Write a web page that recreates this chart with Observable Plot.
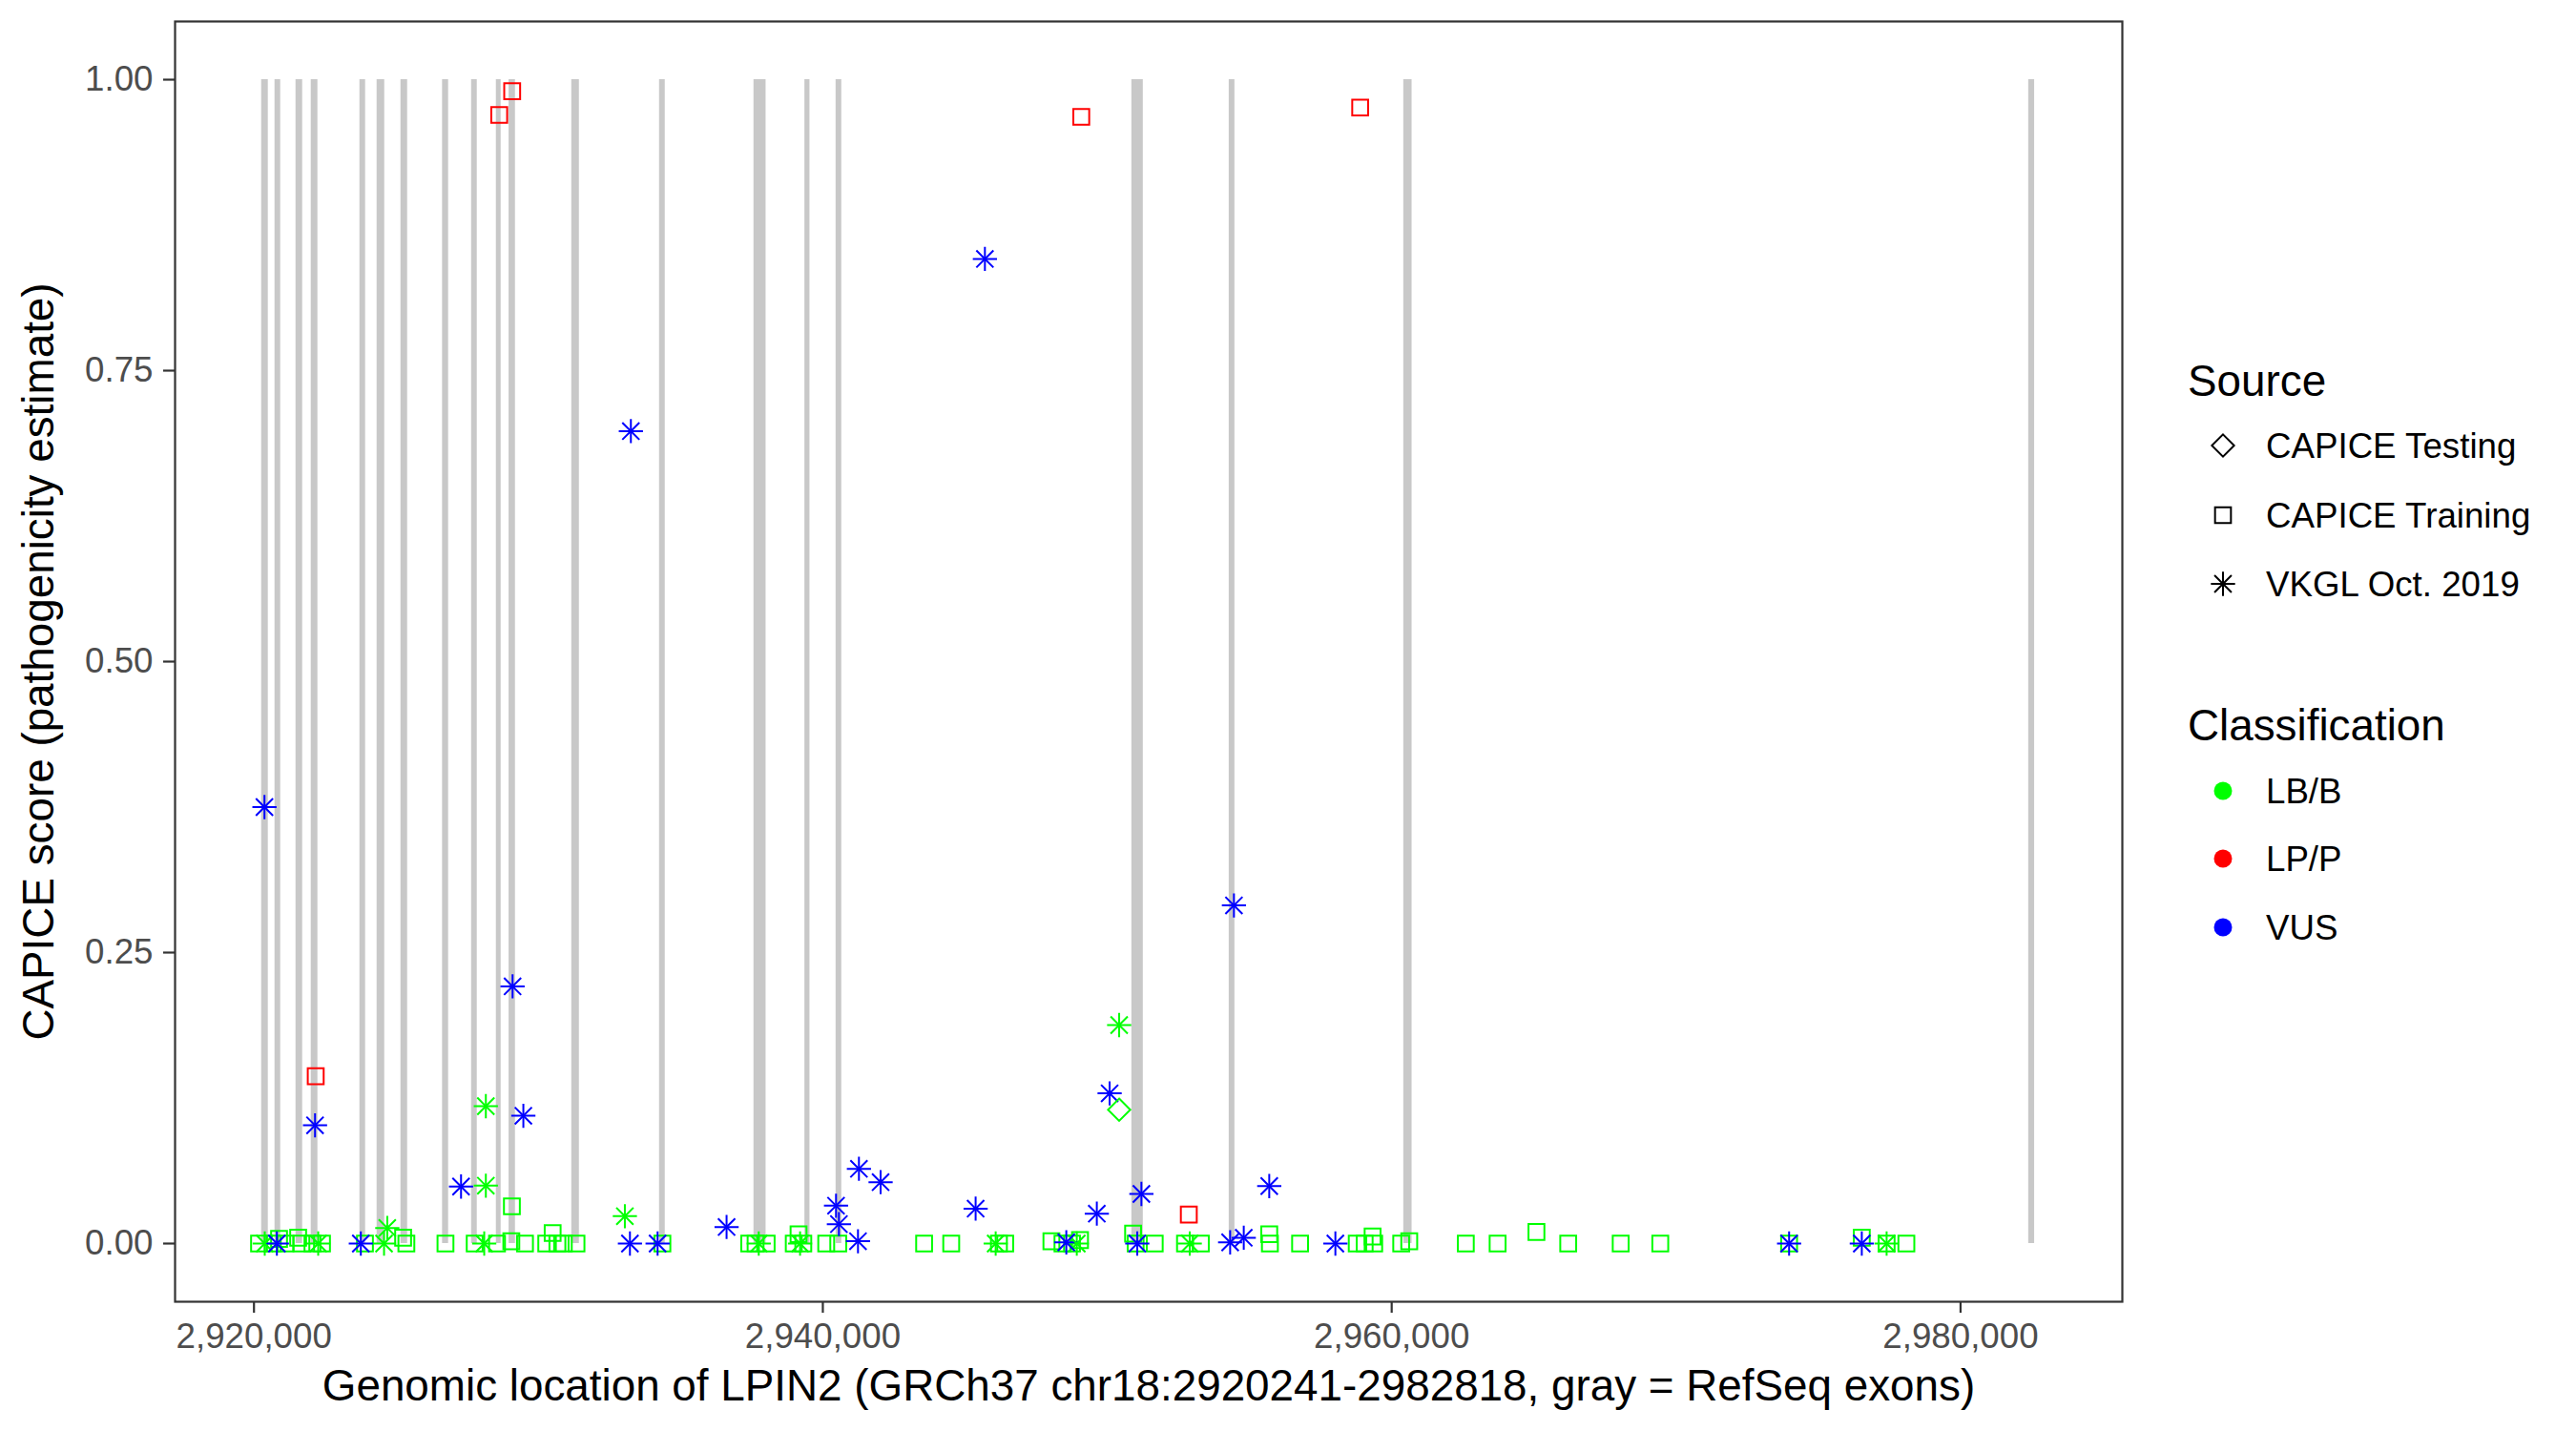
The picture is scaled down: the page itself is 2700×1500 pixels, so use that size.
<!DOCTYPE html>
<html>
<head>
<meta charset="utf-8">
<script src="https://cdn.jsdelivr.net/npm/d3@7"></script>
<script src="https://cdn.jsdelivr.net/npm/@observablehq/plot@0.6"></script>
<style>
  html, body { margin: 0; padding: 0; background: #ffffff; }
  #wrap { position: relative; width: 2700px; height: 1500px; background: #ffffff;
          font-family: "Liberation Sans", Arial, Helvetica, sans-serif; }
  #wrap > svg { position: absolute; left: 0; top: 0; }
</style>
</head>
<body>
<div id="wrap"></div>
<script>
// ---------- data ----------
const sourceNames = ["CAPICE Testing", "CAPICE Training", "VKGL Oct. 2019"];
const classNames = ["LB/B", "LP/P", "VUS"];
const classColors = ["#00FF00", "#FF0000", "#0000FF"];
const xTicks = [2920000, 2940000, 2960000, 2980000];
const yTicks = [0, 0.25, 0.5, 0.75, 1];
const xTitle = "Genomic location of LPIN2 (GRCh37 chr18:2920241-2982818, gray = RefSeq exons)";
const yTitle = "CAPICE score (pathogenicity estimate)";

// RefSeq exons (genomic start / end)
const exonStart = [2920269, 2920739, 2921477, 2922013, 2923724, 2924328, 2925167, 2926630, 2927650, 2928521,
                   2928969, 2931172, 2934259, 2937578, 2939369, 2940465, 2950864, 2954287, 2960424, 2982396];
const exonEnd   = [2920503, 2920939, 2921711, 2922247, 2923924, 2924596, 2925401, 2926842, 2927850, 2928689,
                   2929193, 2931440, 2934459, 2938004, 2939547, 2940665, 2951266, 2954487, 2960716, 2982604];

// CAPICE Training, LB/B
const trainBenignPos = [2920178, 2920661, 2920882, 2921107, 2921553, 2921667, 2922057, 2922392, 2923902, 2925244,
  2925358, 2926733, 2927760, 2928545, 2929068, 2929048, 2929528, 2930276, 2930501, 2930668,
  2930893, 2931339, 2934359, 2937411, 2937636, 2938025, 2938978, 2939146, 2939313, 2940119,
  2940542, 2943561, 2944514, 2946191, 2946412, 2948036, 2948425, 2948761, 2949042, 2950908,
  2950998, 2951669, 2952733, 2953290, 2955695, 2955718, 2956779, 2958771, 2959050, 2959329,
  2959385, 2960335, 2960617, 2962606, 2963724, 2965089, 2966206, 2968051, 2969443, 2973972,
  2976528, 2977401, 2978095];
const trainBenignScore = [0, 0, 0.004, 0, 0.005, 0, 0, 0, 0, 0.005,
  0, 0, 0, 0, 0.032, 0.002, 0, 0, 0.009, 0,
  0, 0, 0, 0, 0, 0, 0, 0.008, 0, 0,
  0, 0, 0, 0, 0, 0.002, 0, 0, 0.003, 0.0085,
  0, 0, 0, 0, 0.008, 0, 0, 0, 0, 0.006,
  0, 0, 0.002, 0, 0, 0.01, 0, 0, 0, 0,
  0.005, 0, 0];

// CAPICE Training, LP/P
const trainPathoPos   = [2922171, 2928622, 2929078, 2949086, 2958892, 2952867];
const trainPathoScore = [0.1437, 0.9697, 0.990, 0.968, 0.976, 0.0249];

// VKGL Oct. 2019, VUS
const vkglVusPos = [2920369, 2922147, 2929471, 2927280, 2929092, 2933251, 2945698, 2954454, 2920805, 2923757,
  2933218, 2934191, 2936616, 2940464, 2940565, 2941236, 2941269, 2942031, 2945372, 2948560,
  2949633, 2950083, 2951055, 2951200, 2954320, 2954799, 2955695, 2958020, 2973972, 2976528];
const vkglVusScore = [0.375, 0.1016, 0.1098, 0.049, 0.221, 0.698, 0.846, 0.2905, 0, 0,
  0, 0, 0.0142, 0.0325, 0.0167, 0.002, 0.0642, 0.0527, 0.030, 0.001,
  0.0257, 0.129, 0, 0.0426, 0.001, 0.005, 0.0494, 0, 0, 0];

// VKGL Oct. 2019, LB/B
const vkglBenignPos = [2928152, 2928152, 2933040, 2924687, 2950418, 2920379, 2922258, 2924573, 2928095, 2937747,
  2939200, 2946077, 2948929, 2952900, 2977401];
const vkglBenignScore = [0.118, 0.0497, 0.0235, 0.0134, 0.1877, 0, 0, 0, 0, 0,
  0, 0, 0, 0, 0];

// CAPICE Testing, LB/B
const testBenignPos   = [2950418];
const testBenignScore = [0.115];

// ---------- tables ----------
const exons = exonStart.map((s, i) => ({start: s, end: exonEnd[i], low: 0, high: 1}));
const rows = (pos, score, cls) => pos.map((p, i) => ({pos: p, score: score[i], cls}));
const training = [...rows(trainBenignPos, trainBenignScore, "LB/B"), ...rows(trainPathoPos, trainPathoScore, "LP/P")];
const vkgl = [...rows(vkglBenignPos, vkglBenignScore, "LB/B"), ...rows(vkglVusPos, vkglVusScore, "VUS")];
const testing = rows(testBenignPos, testBenignScore, "LB/B");

// ---------- layout ----------
const W = 2700, H = 1500;
const panelLeft = 183, panelRight = 2224, panelTop = 22, panelBottom = 1364;
const FONT = '"Liberation Sans", Arial, Helvetica, sans-serif';
const tickFont = 36.7, titleFont = 45.8;

const chart = Plot.plot({
  width: W, height: H,
  marginLeft: panelLeft, marginRight: W - panelRight, marginTop: panelTop, marginBottom: H - panelBottom,
  style: {fontFamily: FONT, background: "#ffffff", overflow: "visible"},
  x: {domain: [2917226, 2985688]},
  y: {domain: [-0.05, 1.05]},
  color: {domain: classNames, range: classColors},
  marks: [
    Plot.rect(exons, {x1: "start", x2: "end", y1: "low", y2: "high", fill: "#C8C8C8"}),
    Plot.dot(training, {x: "pos", y: "score", stroke: "cls", symbol: "square", r: 9.4, strokeWidth: 2, fill: "none"}),
    Plot.dot(vkgl, {x: "pos", y: "score", stroke: "cls", symbol: "plus", r: 8.2, strokeWidth: 2}),
    Plot.dot(vkgl, {x: "pos", y: "score", stroke: "cls", symbol: "times", r: 8.2, strokeWidth: 2}),
    Plot.dot(testing, {x: "pos", y: "score", stroke: "cls", symbol: "diamond2", r: 10.5, strokeWidth: 2, fill: "none"}),
    Plot.axisX({ticks: xTicks, tickFormat: d3.format(","), tickSize: 12, tickPadding: 10, fontSize: tickFont,
                stroke: "#333333", strokeWidth: 2.2, fill: "#4D4D4D", label: null}),
    Plot.axisY({ticks: yTicks, tickFormat: d3.format(".2f"), tickSize: 12, tickPadding: 11, fontSize: tickFont,
                stroke: "#333333", strokeWidth: 2.2, fill: "#4D4D4D", label: null}),
    Plot.text([xTitle], {text: d => d, frameAnchor: "bottom", lineAnchor: "bottom", textAnchor: "middle", dy: 103,
                         fontSize: titleFont, fill: "#000000"}),
    Plot.text([yTitle], {text: d => d, frameAnchor: "left", lineAnchor: "bottom", textAnchor: "middle", rotate: -90, dx: -128,
                         fontSize: titleFont, fill: "#000000"}),
    Plot.frame({stroke: "#333333", strokeWidth: 2.2})
  ]
});
document.getElementById("wrap").appendChild(chart);

// ---------- legend (HTML overlay) ----------
const leg = d3.select("#wrap").append("svg")
  .attr("width", W).attr("height", H)
  .style("font-family", FONT);

const symX = 2330, labX = 2375, titleX = 2293;
function legendTitle(text, baseline) {
  leg.append("text").attr("x", titleX).attr("y", baseline)
    .attr("font-size", titleFont).attr("fill", "#000").text(text);
}
function legendLabel(text, cy) {
  leg.append("text").attr("x", labX).attr("y", cy).attr("dy", "0.35em")
    .attr("font-size", tickFont).attr("fill", "#000").text(text);
}
const area = r => Math.PI * r * r;
legendTitle("Source", 415);
const sourceRows = [467, 540, 612];
const sourceSymbols = [
  [[d3.symbolDiamond2, 10.5]],
  [[d3.symbolSquare, 9.4]],
  [[d3.symbolPlus, 8.2], [d3.symbolTimes, 8.2]]
];
sourceNames.forEach((name, i) => {
  sourceSymbols[i].forEach(([type, r]) => {
    leg.append("path").attr("transform", `translate(${symX},${sourceRows[i]})`)
      .attr("d", d3.symbol(type, area(r))()).attr("fill", "none")
      .attr("stroke", "#000").attr("stroke-width", 2);
  });
  legendLabel(name, sourceRows[i]);
});
legendTitle("Classification", 776);
const classRows = [829, 900, 972];
classNames.forEach((name, i) => {
  leg.append("circle").attr("cx", symX).attr("cy", classRows[i]).attr("r", 9.5).attr("fill", classColors[i]);
  legendLabel(name, classRows[i]);
});
</script>
</body>
</html>
